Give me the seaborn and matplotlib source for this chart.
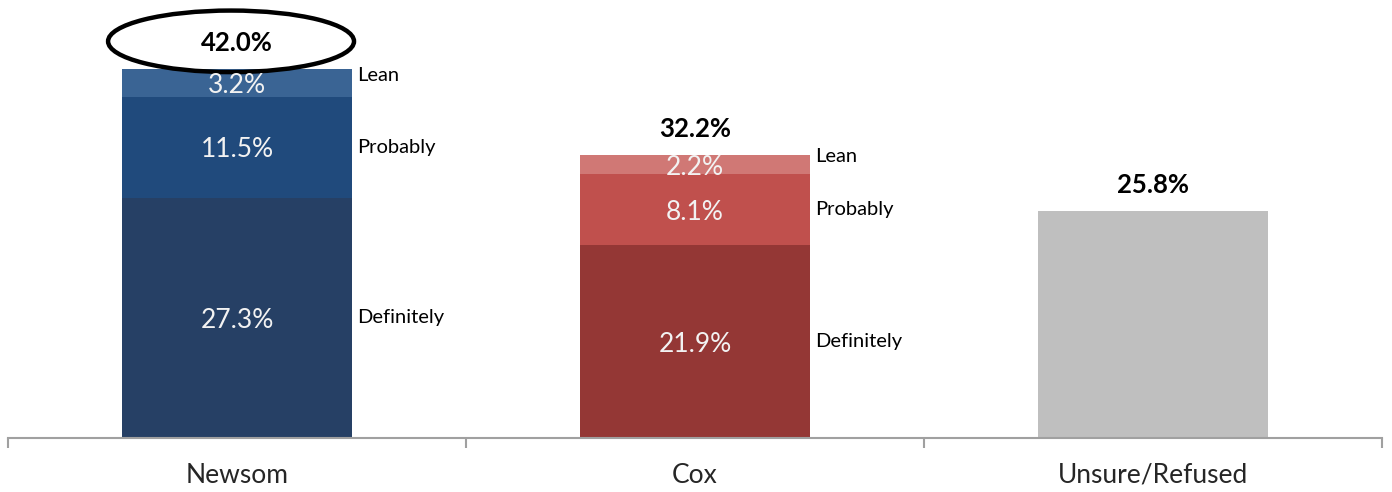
import numpy as np
import pandas as pd
import matplotlib
matplotlib.use("Agg")
import matplotlib.pyplot as plt
from matplotlib.patches import Ellipse
import seaborn as sns

# data
candidates = ["Newsom", "Cox", "Unsure/Refused"]
definitely = [27.3, 21.9, 0.0]
probably = [11.5, 8.1, 0.0]
lean = [3.2, 2.2, 0.0]
unsure = [0.0, 0.0, 25.8]
layer_names = ["Definitely", "Probably", "Lean"]

newsom_cols = ["#264065", "#204A7C", "#3A6494"]
cox_cols = ["#943735", "#C0504D", "#D07875"]
gray = "#BFBFBF"

sns.set_style("white")
plt.rcParams["font.family"] = ["Lato", "DejaVu Sans"]

layers = np.array([definitely, probably, lean]) + np.array([np.zeros(3), np.zeros(3), unsure])
cum = np.cumsum(layers, axis=0)
totals = cum[-1]

fig = plt.figure(figsize=(13.92, 4.92), dpi=100)
ax = fig.add_axes([8 / 1392, 54 / 492, 1374 / 1392, 438 / 492])

# draw from the top layer down so lower segments overlay
for i in [2, 1, 0]:
    df = pd.DataFrame({"cand": candidates, "val": cum[i]})
    pal = [newsom_cols[i], cox_cols[i], gray]
    sns.barplot(data=df, x="cand", y="val", hue="cand", palette=pal,
                width=0.502, saturation=1, linewidth=0, legend=False, ax=ax)

ax.set_xlim(-0.5, 2.5)
ax.set_ylim(0, 49.8)

# segment value labels and side labels
for j in range(2):
    base = 0
    for i, name in enumerate(layer_names):
        v = layers[i][j]
        mid = base + v / 2
        ax.text(j, mid - 0.3, f"{v:.1f}%", ha="center", va="center",
                color="#F2F2F2", fontsize=19)
        ax.text(j + 0.262, mid + (0.85 if i == 2 else 0), name, ha="left",
                va="center", color="black", fontsize=14.5)
        base += v

# totals above bars
for j, t in enumerate(totals):
    ax.text(j, t + 2.95, f"{t:.1f}%", ha="center", va="center",
            color="black", fontsize=18.5, fontweight="bold")

ax.add_patch(Ellipse((-0.013, 45.1), 0.537, 7.0, fill=False, edgecolor="black",
                     linewidth=3.2, clip_on=False))

sns.despine(ax=ax, left=True, top=True, right=True)
ax.spines["bottom"].set_color("#A0A0A0")
ax.spines["bottom"].set_linewidth(1.5)
ax.set_yticks([])
ax.set_xlabel("")
ax.set_ylabel("")
ax.set_xticks([0, 1, 2])
ax.set_xticklabels(candidates, fontsize=19)
ax.set_xticks([-0.5, 0.5, 1.5, 2.5], minor=True)
ax.tick_params(axis="x", which="major", length=0, pad=18)
ax.tick_params(axis="x", which="minor", length=7, width=1.5, color="#A0A0A0",
               direction="out", bottom=True)

fig.savefig("out.png", dpi=100)
